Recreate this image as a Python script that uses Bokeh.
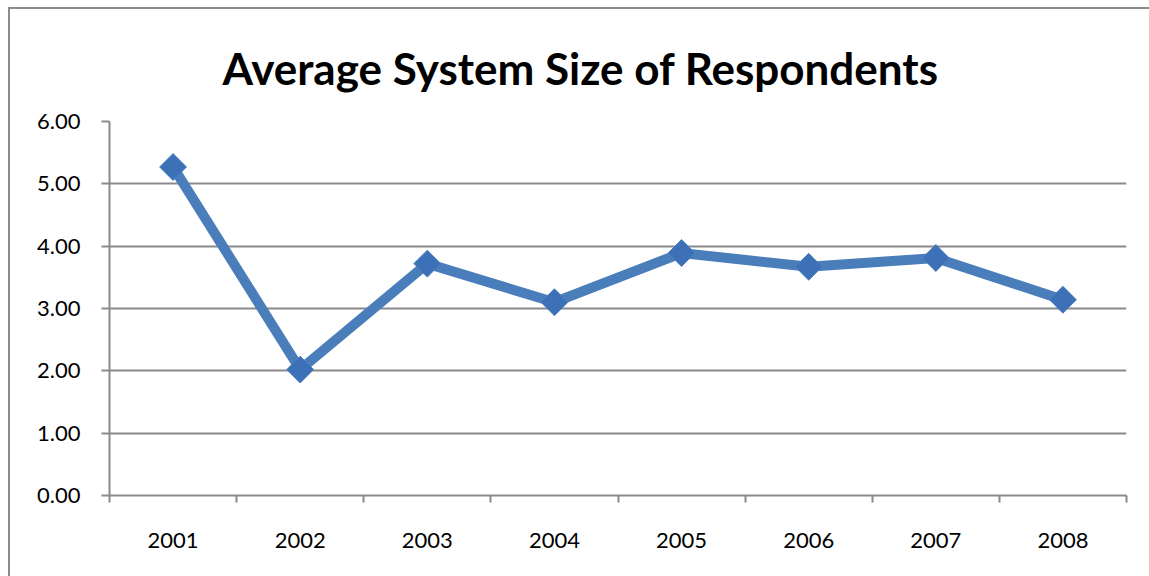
from bokeh.plotting import figure
from bokeh.models import Range1d, FixedTicker, NumeralTickFormatter, ColumnDataSource
from bokeh.embed import file_html
from bokeh.resources import INLINE
import math

# Survey data: average system size reported by respondents per year
years = ["2001", "2002", "2003", "2004", "2005", "2006", "2007", "2008"]
avg_size = [5.27, 2.02, 3.72, 3.10, 3.89, 3.67, 3.81, 3.14]
y_ticks = [0, 1, 2, 3, 4, 5, 6]
title_text = "Average System Size of Respondents"

# Each year occupies one unit slot; points sit at slot centres
slot_centres = [i + 0.5 for i in range(len(years))]
slot_edges = list(range(len(years) + 1))

FONT = "Lato"
GRID = "#8a8a8a"
BLUE = "#4a7ebb"

p = figure(width=1141, height=569, output_backend="svg", toolbar_location=None,
           x_range=Range1d(0, len(years)), y_range=Range1d(0, 6),
           min_border_left=99, min_border_right=25, min_border_top=112,
           min_border_bottom=83)
p.margin = (7, 0, 0, 8)
p.styles = {"border-top": "2px solid #8c8c8c", "border-left": "2px solid #8c8c8c"}

p.outline_line_color = None
p.background_fill_color = "white"
p.border_fill_color = "white"

# Title
p.title.text = title_text
p.title.text_font = FONT
p.title.text_font_style = "bold"
p.title.text_font_size = "44px"
p.title.text_color = "black"
p.title.align = "left"
p.title.offset = 113
p.title.standoff = 56

# Y axis
p.yaxis.ticker = FixedTicker(ticks=y_ticks)
p.yaxis.formatter = NumeralTickFormatter(format="0.00")
p.yaxis.axis_line_color = GRID
p.yaxis.axis_line_width = 2
p.yaxis.major_tick_line_color = GRID
p.yaxis.major_tick_line_width = 2
p.yaxis.major_tick_out = 8
p.yaxis.major_tick_in = 0
p.yaxis.minor_tick_line_color = None
p.yaxis.major_label_text_font = FONT
p.yaxis.major_label_text_font_size = "22px"
p.yaxis.major_label_text_color = "black"
p.yaxis.major_label_standoff = 21

# X axis: labels at slot centres, tick marks at slot edges
p.xaxis.ticker = FixedTicker(ticks=slot_centres, minor_ticks=slot_edges)
p.xaxis.major_label_overrides = {c: y for c, y in zip(slot_centres, years)}
p.xaxis.axis_line_color = GRID
p.xaxis.axis_line_width = 2
p.xaxis.major_tick_line_color = None
p.xaxis.minor_tick_line_color = GRID
p.xaxis.minor_tick_line_width = 2
p.xaxis.minor_tick_out = 7
p.xaxis.minor_tick_in = 0
p.xaxis.major_label_text_font = FONT
p.xaxis.major_label_text_font_size = "22px"
p.xaxis.major_label_text_color = "black"
p.xaxis.major_label_standoff = 30

p.xgrid.grid_line_color = None
p.ygrid.ticker = FixedTicker(ticks=y_ticks)
p.ygrid.grid_line_color = GRID
p.ygrid.grid_line_width = 2

src = ColumnDataSource(dict(x=slot_centres, y=avg_size))
p.line("x", "y", source=src, line_color=BLUE, line_width=10, line_join="miter")
p.scatter("x", "y", source=src, marker="square", size=19, angle=math.pi / 4,
          fill_color="#3c71b8", line_color="#4a7ebb", line_width=1)

open("out.html", "w").write(file_html(p, INLINE))
